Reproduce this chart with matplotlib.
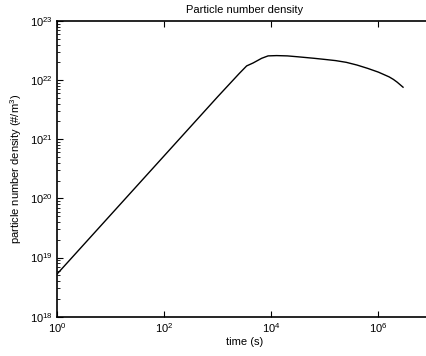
import matplotlib
matplotlib.use("Agg")
import matplotlib.pyplot as plt
from matplotlib.ticker import LogLocator, NullLocator

plt.rcParams['font.family'] = ['Liberation Sans', 'DejaVu Sans']
plt.rcParams['mathtext.fontset'] = 'custom'
plt.rcParams['mathtext.rm'] = 'Liberation Sans'
plt.rcParams['mathtext.it'] = 'Liberation Sans:italic'
plt.rcParams['mathtext.bf'] = 'Liberation Sans:bold'

time_s = [1, 10, 100, 1000, 2512, 3467, 4571, 6607, 8710, 12590, 20000,
          31623, 63096, 1.0e5, 1.585e5, 2.512e5, 3.981e5, 6.31e5, 1.0e6,
          1.585e6, 1.905e6, 2.24e6, 2.88e6]
density = [5.25e18, 5.25e19, 5.25e20, 5.25e21, 1.29e22, 1.74e22, 1.95e22,
           2.34e22, 2.57e22, 2.6e22, 2.57e22,
           2.48e22, 2.34e22, 2.24e22, 2.14e22, 2.0e22, 1.80e22, 1.58e22, 1.365e22,
           1.135e22, 1.028e22, 9.23e21, 7.6e21]
xticks = [1, 1e2, 1e4, 1e6]

fig = plt.figure(figsize=(4.27, 3.56), dpi=100)
ax = fig.add_axes([57/427, 1 - 316.7/356, 375/427, (316.7 - 21)/356])
ax.plot(time_s, density, color='black', lw=1.0)
ax.set_xscale('log')
ax.set_yscale('log')
ax.set_xlim(1, 1e7)
ax.set_ylim(1e18, 1e23)
ax.set_xticks(xticks)
ax.xaxis.set_minor_locator(NullLocator())
ax.yaxis.set_major_locator(LogLocator(base=10, numticks=10))
ax.yaxis.set_minor_locator(LogLocator(base=10, subs=range(2, 10), numticks=20))
for s in ax.spines.values():
    s.set_linewidth(1.2)
ax.tick_params(which='both', direction='in', top=True, right=True, labelsize=8, pad=3)
ax.tick_params(which='major', length=4, width=0.8)
ax.tick_params(which='minor', length=2.5, width=0.6)
ax.set_title('Particle number density', fontsize=8, pad=6)
ax.set_xlabel('time (s)', fontsize=8, labelpad=2)
ax.set_ylabel('particle number density (#/m$^3$)', fontsize=8, labelpad=4)
fig.savefig('out.png', dpi=100)
